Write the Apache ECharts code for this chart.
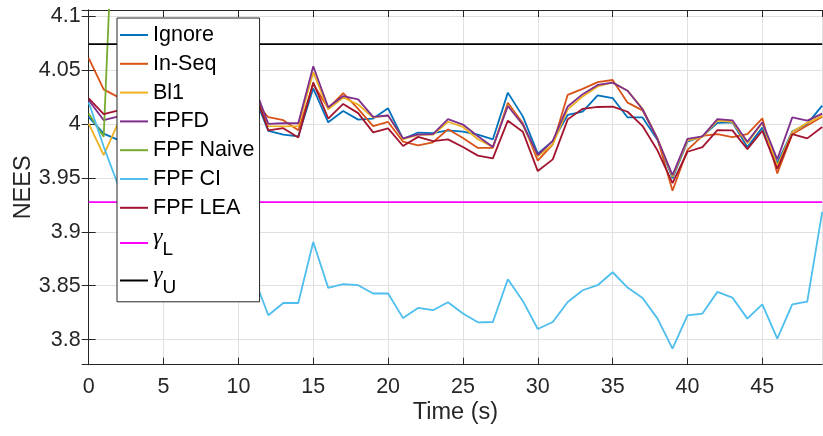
<!DOCTYPE html>
<html>
<head>
<meta charset="utf-8">
<script src="https://cdn.jsdelivr.net/npm/echarts@6/dist/echarts.min.js"></script>
<style>
  html, body { margin: 0; padding: 0; background: #fff; }
  #chart { width: 823px; height: 436px; }
</style>
</head>
<body>
<div id="chart"></div>
<script>
// Time steps (s)
const time = [0,1,2,3,4,5,6,7,8,9,10,11,12,13,14,15,16,17,18,19,20,21,22,23,24,25,26,27,28,29,30,31,32,33,34,35,36,37,38,39,40,41,42,43,44,45,46,47,48,49];

// Average NEES per filter
const ignore = [4.0066,3.991,3.985,3.995,4.002,3.998,4.008,4.004,4.012,4.006,4.015,4.028,3.9936,3.990,3.9885,4.033,4.0015,4.012,4.004,4.005,4.0145,3.986,3.992,3.9915,3.994,3.9928,3.990,3.9857,4.029,4.007,3.9724,3.984,4.0083,4.0113,4.0265,4.024,4.006,4.006,3.985,3.9496,3.9836,3.9885,4.001,4.0015,3.9785,3.9966,3.9637,3.993,4.000,4.017];
const inSeq = [4.061,4.032,4.0246,4.018,4.022,4.015,4.025,4.019,4.028,4.021,4.030,4.022,4.0062,4.0035,3.9942,4.037,4.0145,4.0285,4.014,3.998,4.0018,3.9835,3.980,3.983,3.995,3.987,3.9777,3.9777,4.0195,4.0006,3.9659,3.981,4.027,4.0325,4.0388,4.0407,4.0197,4.0126,3.9862,3.938,3.976,3.9889,3.9906,3.9878,3.9906,4.0052,3.9541,3.9905,3.9985,4.0067];
const bl1 = [4.0003,3.971,4.002,4.010,4.005,4.012,4.008,4.015,4.010,4.018,4.012,4.032,3.998,3.9978,3.998,4.048,4.0135,4.0245,4.018,4.006,4.0078,3.9858,3.9898,3.990,4.002,3.9972,3.9858,3.9787,4.0176,3.999,3.970,3.981,4.0135,4.0255,4.0347,4.0384,4.0307,4.014,3.9865,3.951,3.9845,3.988,4.003,4.002,3.982,4.001,3.961,3.9925,4.001,4.0075];
const fpfd = [4.022,4.0035,4.007,4.012,4.008,4.016,4.011,4.020,4.014,4.022,4.017,4.037,4.000,4.0006,4.0006,4.0534,4.0155,4.0258,4.0227,4.0066,4.0078,3.9866,3.9902,3.9905,4.0044,3.9994,3.9886,3.9786,4.0166,3.9995,3.9712,3.9842,4.0162,4.0276,4.0361,4.0383,4.0308,4.0136,3.986,3.9526,3.9862,3.9885,4.0044,4.0033,3.9835,4.0015,3.9671,4.0061,4.003,4.0095];
const fpfNaive = [4.0097,3.988,4.32,4.75,5.21,5.74,6.30,6.95,7.62,8.41,9.20,10.1,11.0,12.1,13.2,14.4,15.6,17.0,18.4,19.9,21.5,23.2,25.0,26.9,28.8,30.9,33.0,35.3,37.6,40.1,42.6,45.3,48.0,50.9,53.8,56.9,60.0,63.3,66.6,70.1,73.6,77.3,81.0,84.9,88.8,92.9,97.0,101.3,105.6,110.1];
const fpfCI = [4.020,3.979,3.942,3.912,3.893,3.878,3.872,3.866,3.861,3.868,3.855,3.859,3.8226,3.834,3.834,3.8906,3.848,3.8514,3.8505,3.8428,3.8428,3.820,3.8294,3.8273,3.8347,3.8242,3.8161,3.8164,3.856,3.8359,3.8099,3.8164,3.835,3.8458,3.8505,3.8625,3.8483,3.8387,3.8195,3.7917,3.8226,3.8242,3.8443,3.839,3.8195,3.8328,3.801,3.8328,3.8353,3.9185];
const fpfLEA = [4.0237,4.0091,4.0125,4.008,4.014,4.005,4.012,4.009,4.016,4.011,4.019,4.033,3.994,3.996,3.9875,4.0385,4.005,4.0185,4.010,3.9922,3.9958,3.9795,3.988,3.984,3.9857,3.9786,3.9706,3.968,4.003,3.9928,3.9563,3.9671,4.0042,4.014,4.0157,4.016,4.0113,3.998,3.9753,3.9452,3.9742,3.9785,3.9943,3.994,3.9766,3.9937,3.9584,3.9906,3.9866,3.9971];

// Consistency bounds
const gammaL = 3.9275;
const gammaU = 4.074;

const filterNames = ['Ignore', 'In-Seq', 'Bl1', 'FPFD', 'FPF Naive', 'FPF CI', 'FPF LEA'];
const filterValues = [ignore, inSeq, bl1, fpfd, fpfNaive, fpfCI, fpfLEA];
const filterColors = ['#0072BD', '#D95319', '#EDB120', '#7E2F8E', '#77AC30', '#4DBEEE', '#A2142F'];
const boundNames = ['gammaL', 'gammaU'];
const boundValues = [gammaL, gammaU];
const boundColors = ['#FF00FF', '#000000'];

const FONT = 'Liberation Sans';
const INK = '#262626';
const GRID = '#e0e0e0';

const xRange = { min: 0, max: 49, interval: 5 };
const yRange = { min: 3.7768, max: 4.1056 };

const series = [];
filterNames.forEach((name, k) => {
  series.push({
    name, type: 'line', color: filterColors[k],
    data: time.map((t, i) => [t, filterValues[k][i]]),
    symbol: 'none', showSymbol: false, clip: true,
    lineStyle: { width: 1.8 }, emphasis: { disabled: true }
  });
});
boundNames.forEach((name, k) => {
  series.push({
    name, type: 'line', color: boundColors[k],
    data: [[time[0], boundValues[k]], [time[time.length - 1], boundValues[k]]],
    symbol: 'none', showSymbol: false,
    lineStyle: { width: 1.8 }, emphasis: { disabled: true }
  });
});

const chart = echarts.init(document.getElementById('chart'), null, { renderer: 'canvas' });
chart.setOption({
  animation: false,
  backgroundColor: '#fff',
  grid: { left: 88.7, right: 0.8, top: 10, bottom: 71.3, outerBoundsMode: 'none', containLabel: false },
  xAxis: [
    {
      type: 'value', ...xRange, position: 'bottom',
      name: 'Time (s)', nameLocation: 'middle', nameGap: 36, nameMoveOverlap: false,
      nameTextStyle: { fontFamily: FONT, fontSize: 23.5, color: INK },
      axisLine: { lineStyle: { color: INK, width: 1 } },
      axisTick: { inside: true, length: 7, lineStyle: { color: INK } },
      axisLabel: { fontFamily: FONT, fontSize: 21.5, color: INK, margin: 11, showMaxLabel: false },
      splitLine: { show: true, lineStyle: { color: GRID, width: 1 } }
    },
    {
      type: 'value', ...xRange, position: 'top',
      axisLine: { lineStyle: { color: INK, width: 1 } },
      axisTick: { inside: true, length: 7, lineStyle: { color: INK } },
      axisLabel: { show: false }, splitLine: { show: false }
    }
  ],
  yAxis: [
    {
      type: 'value', ...yRange, position: 'left',
      name: 'NEES', nameLocation: 'middle', nameGap: 53, nameMoveOverlap: false,
      nameTextStyle: { fontFamily: FONT, fontSize: 23.5, color: INK },
      axisLine: { lineStyle: { color: INK, width: 1 } },
      axisTick: { inside: true, length: 7, lineStyle: { color: INK } },
      axisLabel: { fontFamily: FONT, fontSize: 21.5, color: INK, margin: 8, showMinLabel: false, showMaxLabel: false },
      splitLine: { show: true, lineStyle: { color: GRID, width: 1 } }
    },
    {
      type: 'value', ...yRange, position: 'right',
      axisLine: { lineStyle: { color: INK, width: 1 } },
      axisTick: { inside: true, length: 7, lineStyle: { color: INK } },
      axisLabel: { show: false }, splitLine: { show: false }
    }
  ],
  legend: [
    {
      orient: 'vertical', left: 117, top: 18,
      padding: [5, 5, 82, 3], itemGap: 4.8, itemWidth: 28, itemHeight: 2, icon: 'rect',
      backgroundColor: '#fff', borderColor: INK, borderWidth: 1,
      selectedMode: false,
      textStyle: { fontFamily: FONT, fontSize: 21.5, color: '#000', lineHeight: 24 },
      data: filterNames
    },
    {
      orient: 'vertical', left: 117, top: 226, z: 5,
      padding: [0, 0, 0, 3], itemGap: 4, itemWidth: 28, itemHeight: 2, icon: 'rect',
      selectedMode: false,
      formatter: name => name === 'gammaL' ? '{g|γ}{s|L}' : '{g|γ}{s|U}',
      textStyle: {
        fontFamily: FONT, fontSize: 21.5, color: '#000',
        rich: {
          g: { fontFamily: 'Liberation Serif', fontStyle: 'italic', fontSize: 24, color: '#000', padding: [0, 0, 10, 0] },
          s: { fontFamily: FONT, fontSize: 19, color: '#000', padding: [14, 0, 0, 0] }
        }
      },
      data: boundNames
    }
  ],
  series
});
</script>
</body>
</html>
